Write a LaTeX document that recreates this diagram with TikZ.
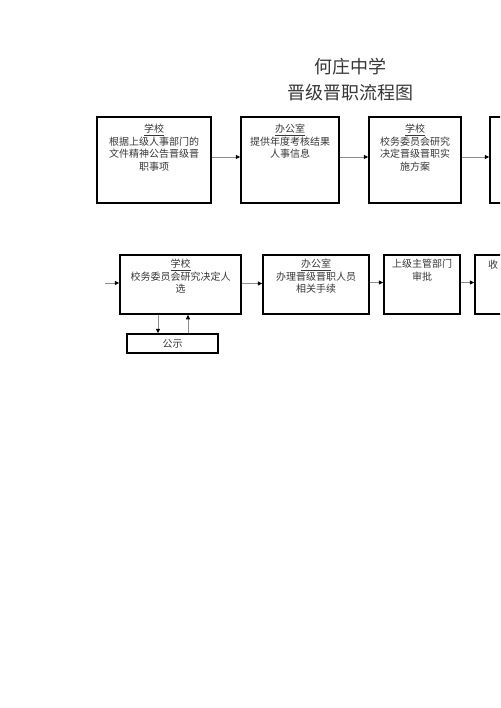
\documentclass[tikz,border=0pt]{standalone}
\usepackage{fontspec}
\setmainfont{Noto Sans CJK SC}
\usetikzlibrary{arrows.meta,positioning}
\definecolor{txtcol}{RGB}{55,55,55}
\definecolor{linecol}{RGB}{140,140,140}

\begin{document}
\begin{tikzpicture}[
    x=1pt, y=-1pt,
    box/.style={rectangle, draw=black, line width=1.5pt, inner sep=0pt},
    txt/.style={anchor=north, align=center, inner sep=0pt, text=txtcol, font=\fontsize{10}{12.5}\selectfont},
    arr/.style={draw=linecol, line width=0.9pt, -{Triangle[black,length=4.5pt,width=4pt]}},
]
\clip (0,0) rectangle (500,708);
\fill[white] (0,0) rectangle (500,708);

\node[align=center, text=txtcol, font=\fontsize{18}{26}\selectfont] (title) at (350,80) {何庄中学\\晋级晋职流程图};

% first row
\node[box, minimum width=114pt, minimum height=86pt] (s1) at (154,160) {};
\node[box, minimum width=98pt, minimum height=86pt] (s2) at (290,160) {};
\node[box, minimum width=92pt, minimum height=86pt] (s3) at (415,160) {};
\node[box, minimum width=100pt, minimum height=86pt] (s4) at (540,160) {};
\node[txt, below=8pt of s1.north] (s1t) {\underline{学校}\\根据上级人事部门的\\文件精神公告晋级晋\\职事项};
\node[txt, below=8pt of s2.north] (s2t) {\underline{办公室}\\提供年度考核结果\\人事信息};
\node[txt, below=8pt of s3.north] (s3t) {\underline{学校}\\校务委员会研究\\决定晋级晋职实\\施方案};

\draw[arr] ([yshift=3pt]s1.east) -- ([yshift=3pt]s2.west);
\draw[arr] ([yshift=3pt]s2.east) -- ([yshift=3pt]s3.west);
\draw[arr] ([yshift=3pt]s3.east) -- ([yshift=3pt]s4.west);

% second row
\node[box, minimum width=121pt, minimum height=59pt] (r1) at (180.5,284.5) {};
\node[box, minimum width=106pt, minimum height=59pt] (r2) at (316,284.5) {};
\node[box, minimum width=76pt, minimum height=59pt] (r3) at (422,284.5) {};
\node[box, minimum width=80pt, minimum height=59pt] (r4) at (515,284.5) {};
\node[box, minimum width=91pt, minimum height=19pt] (gs) at (172.5,343.5) {};
\node[txt, below=5pt of r1.north] (r1t) {\underline{学校}\\校务委员会研究决定人\\选};
\node[txt, below=5pt of r2.north] (r2t) {\underline{办公室}\\办理晋级晋职人员\\相关手续};
\node[txt, below=5pt of r3.north] (r3t) {上级主管部门\\审批};
\node[txt, anchor=north west] (r4t) at (488,260) {收};
\node[txt, anchor=center] (gst) at (gs.center) {公示};

\coordinate (in) at (105,283);
\coordinate (dn) at ([xshift=-14.5pt]gs.north);
\coordinate (up) at ([xshift=15.5pt]gs.north);

\draw[arr] (in) -- (in -| r1.west);
\draw[arr] ([yshift=1pt]r1.east) -- ([yshift=1pt]r2.west);
\draw[arr] ([yshift=2pt]r2.east) -- ([yshift=2pt]r3.west);
\draw[arr] ([yshift=2pt]r3.east) -- ([yshift=2pt]r4.west);
\draw[arr] (dn |- r1.south) -- (dn);
\draw[arr] (up) -- (up |- r1.south);
\end{tikzpicture}
\end{document}
